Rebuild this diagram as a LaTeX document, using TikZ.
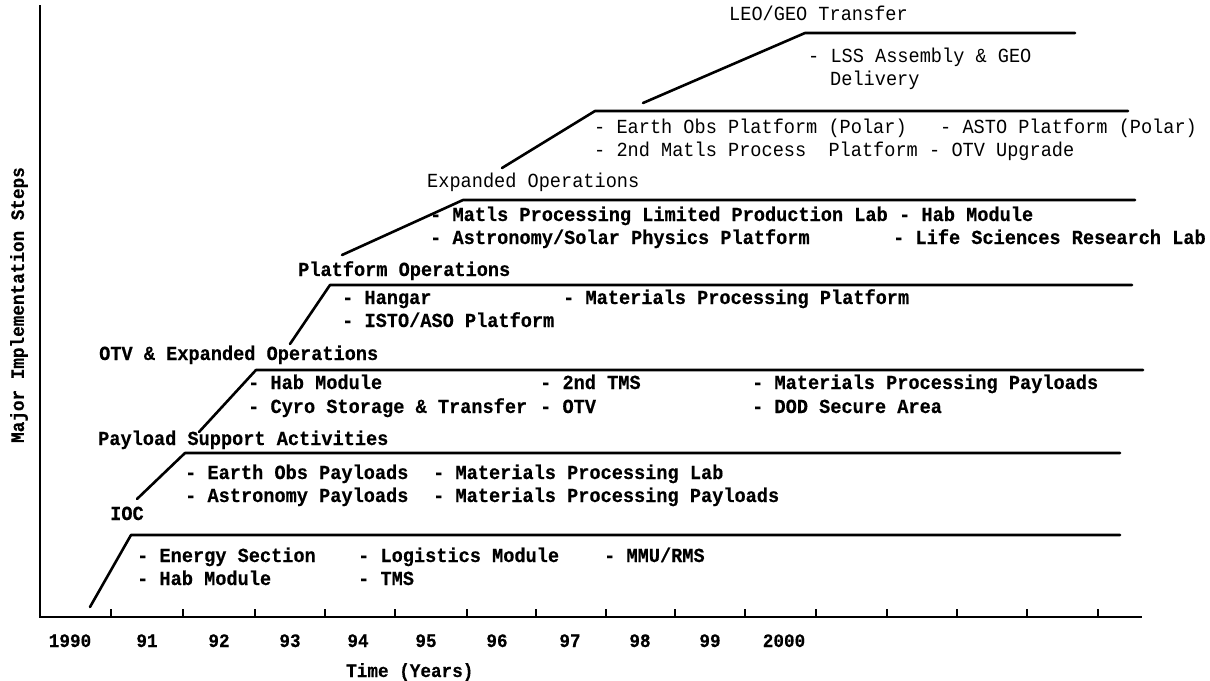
\documentclass[tikz,border=0pt]{standalone}
\usepackage{fontspec}
\newfontfamily\tw{Liberation Mono}[FakeStretch=0.93,BoldFeatures={FakeBold=0.4}]
\begin{document}
\begin{tikzpicture}[x=1pt,y=-1pt,
  thick line/.style={line width=2.6pt,line cap=round,line join=round},
  axisline/.style={line width=2.6pt},
  tickline/.style={line width=1.6pt},
  item/.style={anchor=base west,inner sep=0pt,font=\tw\bfseries\fontsize{20}{22}\selectfont},
  itemlight/.style={anchor=base west,inner sep=0pt,font=\tw\fontsize{20}{22}\selectfont},
  yearlbl/.style={anchor=base,inner sep=0pt,font=\tw\bfseries\fontsize{19}{22}\selectfont},
  axislbl/.style={inner sep=0pt,font=\tw\bfseries\fontsize{19}{22}\selectfont}]
\useasboundingbox (0,0) rectangle (1210,680);
% axes
\coordinate (origin) at (40,617);
\coordinate (ytop) at (40,5);
\coordinate (xend) at (1142,617);
\draw[axisline] (ytop) -- (origin) -- (xend);
\foreach \x in {111,183,255,325,395,467,536,606,675,745,816,887,957,1027,1098}
  \draw[tickline] (\x,617) -- (\x,609);
% years
\foreach \x/\t in {70/1990,147/91,219/92,290/93,358/94,426/95,497/96,570/97,640/98,710/99,784/2000}
  \node[yearlbl] (y\t) at (\x,647) {\t};
\node[axislbl,anchor=base west] (xl) at (346,677) {Time (Years)};
\node[axislbl,rotate=90] (yl) at (19,305) {Major Implementation Steps};
% step 1 IOC
\draw[thick line] (90,607) -- (131,535) -- (1120,535);
\node[item] (s1) at (110,520) {IOC};
\node[item] (s1a) at (137,562) {- Energy Section};
\node[item] (s1b) at (137,585) {- Hab Module};
\node[item] (s1c) at (358,562) {- Logistics Module};
\node[item] (s1d) at (358,585) {- TMS};
\node[item] (s1e) at (604,562) {- MMU/RMS};
% step 2
\draw[thick line] (137,499) -- (185,453) -- (1120,453);
\node[item] (s2) at (98,445) {Payload Support Activities};
\node[item] (s2a) at (185,479) {- Earth Obs Payloads};
\node[item] (s2b) at (185,502) {- Astronomy Payloads};
\node[item] (s2c) at (433,479) {- Materials Processing Lab};
\node[item] (s2d) at (433,502) {- Materials Processing Payloads};
% step 3
\draw[thick line] (199,432) -- (256,370) -- (1143,370);
\node[item] (s3) at (99,360) {OTV \& Expanded Operations};
\node[item] (s3a) at (248,389) {- Hab Module};
\node[item] (s3b) at (248,413) {- Cyro Storage \& Transfer};
\node[item] (s3c) at (540,389) {- 2nd TMS};
\node[item] (s3d) at (540,413) {- OTV};
\node[item] (s3e) at (752,389) {- Materials Processing Payloads};
\node[item] (s3f) at (752,413) {- DOD Secure Area};
% step 4
\draw[thick line] (290,344) -- (330,285) -- (1132,285);
\node[item] (s4) at (298,276) {Platform Operations};
\node[item] (s4a) at (342,304) {- Hangar};
\node[item] (s4b) at (342,327) {- ISTO/ASO Platform};
\node[item] (s4c) at (563,304) {- Materials Processing Platform};
% step 5
\draw[thick line] (342,255) -- (463,200) -- (1135,200);
\node[itemlight] (s5) at (427,187) {Expanded Operations};
\node[item] (s5a) at (430,221) {- Matls Processing Limited Production Lab};
\node[item] (s5b) at (430,244) {- Astronomy/Solar Physics Platform};
\node[item] (s5c) at (899,221) {- Hab Module};
\node[item] (s5d) at (893,244) {- Life Sciences Research Lab};
% step 6
\draw[thick line] (502,168) -- (595,111) -- (1128,111);
\node[itemlight] (s6a) at (594,133) {- Earth Obs Platform (Polar)};
\node[itemlight] (s6b) at (594,156) {- 2nd Matls Process\ \ Platform};
\node[itemlight] (s6c) at (940,133) {- ASTO Platform (Polar)};
\node[itemlight] (s6d) at (929,156) {- OTV Upgrade};
% step 7
\draw[thick line] (643,103) -- (805,33) -- (1075,33);
\node[itemlight] (s7) at (729,20) {LEO/GEO Transfer};
\node[itemlight] (s7a) at (808,62) {- LSS Assembly \& GEO};
\node[itemlight] (s7b) at (830,85) {Delivery};
\end{tikzpicture}
\end{document}
